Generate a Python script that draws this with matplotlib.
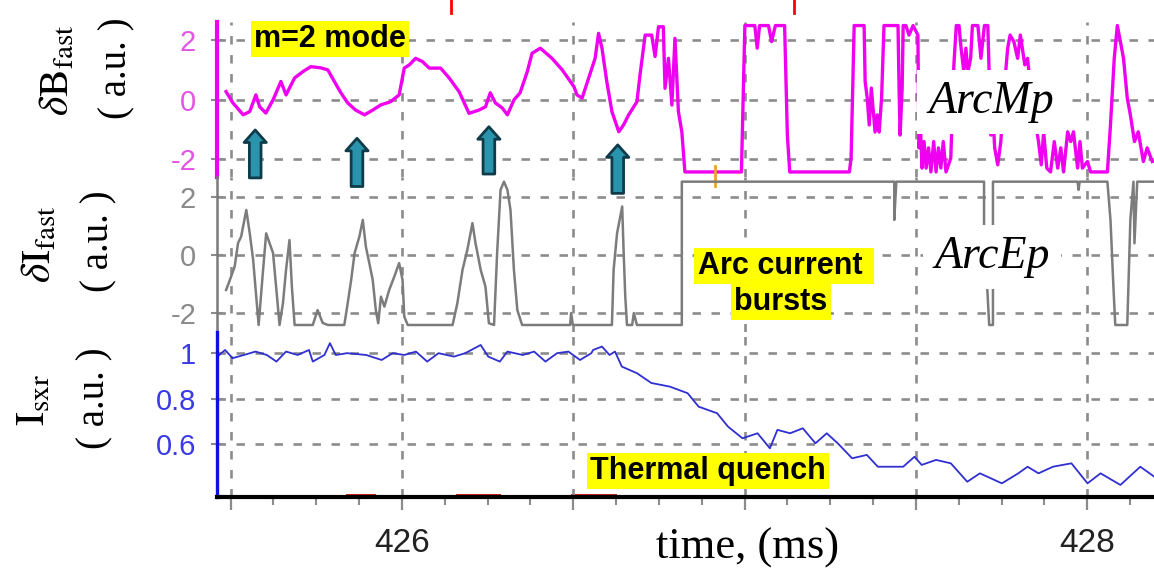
import matplotlib
matplotlib.use("Agg")
import matplotlib.pyplot as plt
from matplotlib.patches import FancyArrowPatch
from matplotlib.ticker import MultipleLocator, FixedLocator

plt.rcParams['font.family'] = ['Liberation Sans', 'DejaVu Sans']
plt.rcParams['mathtext.fontset'] = 'stix'
plt.rcParams['axes.unicode_minus'] = False

# ---- data (time in ms, signals in a.u.) ----
t_b = [425.487, 425.507, 425.537, 425.556, 425.574, 425.585, 425.603, 425.624, 425.647, 425.662,
       425.687, 425.711, 425.734, 425.763, 425.784, 425.803, 425.822, 425.842, 425.865, 425.891,
       425.915, 425.938, 425.967, 425.992, 426.007, 426.022, 426.040, 426.060, 426.080, 426.113,
       426.138, 426.167, 426.196, 426.225, 426.244, 426.258, 426.273, 426.293, 426.308, 426.327,
       426.345, 426.366, 426.380, 426.404, 426.438, 426.468, 426.502, 426.511, 426.526, 426.545,
       426.564, 426.574, 426.584, 426.598, 426.613, 426.633, 426.647, 426.662, 426.686, 426.695,
       426.710, 426.729, 426.739, 426.749, 426.763, 426.768, 426.778, 426.788, 426.797, 426.807,
       426.817, 426.826, 426.991, 427.001, 427.030, 427.037, 427.044, 427.070, 427.079, 427.090,
       427.117, 427.125, 427.132, 427.306, 427.311, 427.320, 427.349, 427.352, 427.358, 427.364,
       427.370, 427.375, 427.381, 427.387, 427.393, 427.400, 427.407, 427.448, 427.451, 427.454,
       427.460, 427.463, 427.471, 427.480, 427.492, 427.506, 427.509, 427.514, 427.518, 427.524,
       427.530, 427.537, 427.544, 427.552, 427.559, 427.566, 427.573, 427.580, 427.588, 427.602,
       427.611, 427.618, 427.626, 427.632, 427.640, 427.646, 427.652, 427.660, 427.665, 427.681,
       427.690, 427.700, 427.710, 427.719, 427.725, 427.730, 427.739, 427.748, 427.758, 427.768,
       427.775, 427.786, 427.797, 427.805, 427.818, 427.826, 427.835, 427.844, 427.850, 427.858,
       427.866, 427.873, 427.882, 427.893, 427.904, 427.914, 427.923, 427.931, 427.943, 427.952,
       427.960, 427.972, 427.979, 427.986, 428.001, 428.010, 428.059, 428.068, 428.079, 428.088,
       428.097, 428.106, 428.117, 428.126, 428.138, 428.149, 428.164, 428.175, 428.190]
b_fast = [0.28, -0.10, -0.50, -0.39, 0.17, -0.23, -0.44, 0.00, 0.62, 0.17,
          0.74, 0.95, 1.12, 1.08, 1.01, 0.62, 0.24, -0.10, -0.34, -0.50,
          -0.34, -0.17, -0.06, 0.17, 1.07, 1.18, 1.40, 1.29, 1.07, 1.07,
          0.74, 0.28, -0.45, -0.34, -0.23, 0.24, -0.10, -0.27, -0.50, 0.00,
          0.24, 0.95, 1.57, 1.74, 1.40, 1.01, 0.45, 0.17, 0.06, 0.73,
          1.40, 2.24, 1.74, 0.62, -0.39, -1.07, -0.84, -0.50, -0.06, 0.84,
          2.18, 2.18, 1.46, 2.46, 2.46, 0.39, 1.40, -0.17, 2.07, -0.39,
          -1.07, -2.42, -2.42, 2.50, 2.50, 1.74, 2.50, 2.50, 1.96, 2.50,
          2.50, -1.18, -2.42, -2.42, -1.95, 2.50, 2.50, 0.62, 0.07, -0.84,
          0.40, -0.27, -1.08, -0.50, -1.08, 0.07, 2.50, 2.50, 0.40, -1.18,
          0.40, 2.50, 2.50, 2.18, 2.50, 2.18, -1.61, -1.07, -2.29, -1.40,
          -2.29, -1.61, -2.42, -1.40, -2.42, -1.61, -2.29, -1.40, -2.42, -1.95,
          1.18, 2.50, 2.50, 1.74, 0.95, 1.74, 0.95, 1.40, 2.50, 2.50,
          1.40, 2.50, 2.50, -1.18, -0.50, -1.61, -2.18, -1.40, 0.40, 1.74,
          2.18, 1.96, 1.40, 2.18, 1.18, 1.40, 0.40, -0.50, -0.84, -1.40,
          -2.18, -1.07, -2.29, -2.42, -1.40, -2.29, -1.61, -2.42, -1.07, -1.40,
          -1.07, -2.29, -1.40, -2.29, -2.07, -2.42, -2.42, -0.84, 1.40, 2.50,
          1.96, 1.40, 0.06, -0.50, -1.40, -1.07, -2.07, -1.61, -2.07]

t_i = [425.487, 425.498, 425.512, 425.522, 425.531, 425.546, 425.556, 425.566, 425.575, 425.582,
       425.595, 425.604, 425.614, 425.624, 425.633, 425.643, 425.653, 425.662, 425.672, 425.679,
       425.687, 425.740, 425.754, 425.769, 425.784, 425.832, 425.842, 425.852, 425.862, 425.876,
       425.886, 425.895, 425.905, 425.915, 425.924, 425.931, 425.939, 425.949, 425.963, 425.978,
       425.992, 426.002, 426.007, 426.017, 426.148, 426.162, 426.177, 426.191, 426.206, 426.215,
       426.230, 426.244, 426.254, 426.269, 426.278, 426.288, 426.298, 426.308, 426.317, 426.327,
       426.337, 426.351, 426.491, 426.494, 426.499, 426.613, 426.618, 426.628, 426.643, 426.647,
       426.652, 426.657, 426.672, 426.677, 426.686, 426.817, 426.817, 427.437, 427.437, 427.443,
       427.699, 427.699, 427.714, 427.725, 427.725, 427.972, 427.975, 427.978, 428.059, 428.068,
       428.077, 428.082, 428.117, 428.126, 428.135, 428.138, 428.146, 428.196]
i_fast = [-1.20, -0.86, -0.40, 0.41, 0.63, 1.54, 0.75, -0.17, -1.43, -2.40,
          -0.51, 0.74, 0.40, 0.07, -1.09, -2.40, -1.65, -0.51, 0.51, -1.09,
          -2.40, -2.40, -1.89, -2.33, -2.40, -2.40, -1.65, -0.86, 0.06, 0.63,
          1.20, 0.28, -0.28, -0.86, -1.89, -2.34, -1.43, -1.77, -1.20, -0.74,
          -0.28, -0.86, -2.11, -2.40, -2.40, -1.65, -0.51, 0.17, 1.09, 0.40,
          -0.51, -1.09, -2.34, -2.40, 0.06, 2.23, 2.51, 2.23, 1.54, -0.51,
          -1.89, -2.40, -2.40, -1.99, -2.40, -2.40, -0.51, 0.74, 1.66, 0.17,
          -1.43, -2.40, -2.40, -1.99, -2.40, -2.40, 2.51, 2.51, 1.20, 2.51,
          2.51, 0.97, -2.40, -2.40, 2.51, 2.51, 2.23, 2.51, 2.51, 1.20,
          -1.20, -2.40, -2.40, 1.20, 2.51, 0.40, 2.51, 2.51]

t_sxr = [425.461, 425.484, 425.506, 425.539, 425.573, 425.606, 425.634, 425.662, 425.696, 425.729,
         425.740, 425.774, 425.790, 425.807, 425.840, 425.896, 425.941, 425.973, 426.007, 426.041,
         426.074, 426.107, 426.152, 426.185, 426.230, 426.252, 426.286, 426.308, 426.353, 426.386,
         426.419, 426.453, 426.486, 426.520, 426.553, 426.558, 426.584, 426.606, 426.622, 426.642,
         426.686, 426.728, 426.782, 426.834, 426.866, 426.920, 426.952, 426.994, 427.038, 427.074,
         427.096, 427.133, 427.170, 427.207, 427.240, 427.272, 427.314, 427.357, 427.389, 427.463,
         427.496, 427.517, 427.559, 427.602, 427.650, 427.687, 427.751, 427.799, 427.826, 427.858,
         427.900, 427.954, 428.001, 428.039, 428.097, 428.155, 428.196]
i_sxr = [0.985, 1.015, 0.979, 0.993, 1.008, 0.993, 0.964, 1.008, 0.993, 1.015,
         0.964, 0.993, 1.045, 0.993, 1.001, 0.993, 0.971, 1.001, 0.993, 1.008,
         0.964, 1.001, 0.986, 1.001, 1.037, 0.986, 0.964, 1.008, 0.993, 1.008,
         0.964, 1.001, 1.008, 0.971, 1.001, 1.015, 1.030, 0.993, 1.008, 0.942,
         0.913, 0.870, 0.854, 0.825, 0.766, 0.737, 0.678, 0.627, 0.649, 0.583,
         0.664, 0.649, 0.671, 0.605, 0.649, 0.605, 0.539, 0.554, 0.502, 0.502,
         0.546, 0.510, 0.532, 0.517, 0.436, 0.473, 0.429, 0.473, 0.502, 0.473,
         0.502, 0.517, 0.429, 0.473, 0.422, 0.502, 0.458]

# arrows marking the m=2 minima (time, tip, tail in a.u. of the top panel)
arrow_t = [425.572, 425.869, 426.254, 426.630]
arrow_tip = [-1.01, -1.29, -0.90, -1.51]
arrow_tail = [-2.62, -2.91, -2.49, -3.14]

grid_ticks = [425.5, 426.0, 426.5, 427.0, 427.5, 428.0]
xlabels = ['', '426', '', '', '', '428']

PINK = '#f000f0'
GRAY = '#7c7c7c'
BLUE = '#2f2fd2'
GRID = '#8c8c8c'
W, H = 1154, 571


def px(x, y):
    return x / W, 1 - y / H


fig = plt.figure(figsize=(W / 100, H / 100), dpi=100)
left, width = 217 / W, 1 - 217 / W
ax1 = fig.add_axes([left, 1 - 177 / H, width, 155 / H])
ax2 = fig.add_axes([left, 1 - 332 / H, width, 155 / H])
ax3 = fig.add_axes([left, 1 - 497 / H, width, 165 / H])

ax1.plot(t_b, b_fast, color=PINK, lw=2.4)
ax2.plot(t_i, i_fast, color=GRAY, lw=1.8)
ax3.plot(t_sxr, i_sxr, color=BLUE, lw=1.3)

ax1.set_ylim(-2.59, 2.62)
ax2.set_ylim(-2.64, 2.67)
ax3.set_ylim(0.369, 1.094)
ax1.set_yticks([-2, 0, 2])
ax2.set_yticks([-2, 0, 2])
ax3.set_yticks([0.6, 0.8, 1.0])
ax3.set_yticklabels(['0.6', '0.8', '1'])

for ax, col, tcol, slw in [(ax1, PINK, '#e455e4', 3.0), (ax2, '#7a7a7a', '#8a8a8a', 1.8),
                           (ax3, '#1010e0', '#3a3ae6', 2.4)]:
    ax.set_facecolor('none')
    ax.set_xlim(425.4605, 428.195)
    ax.xaxis.set_major_locator(FixedLocator(grid_ticks))
    ax.grid(True, color=GRID, linestyle=(0, (3.2, 4.0)), lw=1.9)
    for s in ['top', 'right']:
        ax.spines[s].set_visible(False)
    ax.spines['left'].set_color(col)
    ax.spines['left'].set_linewidth(slw)
    ax.tick_params(axis='y', colors=GRID, labelcolor=tcol, labelsize=21,
                   direction='inout', length=8, width=1.5, pad=11)

for ax in (ax1, ax2):
    ax.spines['bottom'].set_visible(False)
    ax.tick_params(axis='x', bottom=False, labelbottom=False)

ax3.spines['bottom'].set_color('black')
ax3.spines['bottom'].set_linewidth(3.0)
ax3.set_xticklabels(xlabels)
ax3.xaxis.set_minor_locator(MultipleLocator(0.125))
ax3.tick_params(axis='x', which='major', colors=GRID, labelcolor='#222222',
                labelsize=24, direction='out', length=9, width=1.6, pad=13)
ax3.tick_params(axis='x', which='minor', colors=GRID, direction='out', length=6, width=1.5)

# small coloured marks from the original screenshot
for tm in (426.142, 427.144):
    ax1.plot([tm, tm], [3.36, 2.92], color='red', lw=2, clip_on=False)
ax1.plot([426.914, 426.914], [-2.22, -2.89], color='#f0a030', lw=2, clip_on=False)
for t0, t1 in [(425.840, 425.919), (426.162, 426.284), (426.497, 426.622)]:
    ax3.plot([t0, t1], [0.376, 0.376], color='#d02020', lw=2.2, clip_on=False, zorder=1)

# arrows
for tx, tip, tail in zip(arrow_t, arrow_tip, arrow_tail):
    arr = FancyArrowPatch((tx, tail), (tx, tip), transform=ax1.transData,
                          arrowstyle='simple,head_length=0.45,head_width=0.8,tail_width=0.42',
                          mutation_scale=20, fc='#2a94ad', ec='#103c4a', lw=2.0,
                          shrinkA=0, shrinkB=0, zorder=5)
    fig.add_artist(arr)

# axis labels
serif = 'Liberation Serif'
for (x, y), s in [((57, 70), r'$\delta\mathrm{B}_{\mathrm{fast}}$'),
                  ((39, 244), r'$\delta\mathrm{I}_{\mathrm{fast}}$'),
                  ((33, 400), r'$\mathrm{I}_{\mathrm{sxr}}$')]:
    fig.text(*px(x, y), s, rotation=90, size=30, ha='center', va='center')
for x, y in [(117, 68), (99, 241), (95, 398)]:
    fig.text(*px(x, y), '( a.u. )', rotation=90, size=28, ha='center', va='center',
             family=serif)
fig.text(*px(748, 548), 'time, (ms)', size=32, ha='center', va='center', family=serif)

# annotations
yellow = dict(facecolor='#ffff00', edgecolor='none', pad=2.5)
fig.text(*px(330, 39), 'm=2 mode', size=22, weight='bold', ha='center', va='center', bbox=yellow)
fig.text(*px(784, 266), 'Arc current ', size=22, weight='bold', ha='center', va='center', bbox=yellow)
fig.text(*px(781, 302), 'bursts', size=22, weight='bold', ha='center', va='center', bbox=yellow)
fig.text(*px(708, 471), 'Thermal quench', size=22, weight='bold', ha='center', va='center', bbox=yellow)

white = dict(facecolor='white', edgecolor='none', pad=8)
fig.text(*px(991, 102), 'ArcMp', size=33, style='italic', family=serif,
         ha='center', va='center', bbox=white)
fig.text(*px(992, 257), 'ArcEp', size=33, style='italic', family=serif,
         ha='center', va='center', bbox=white)

fig.savefig('out.png', dpi=100, facecolor='white')
